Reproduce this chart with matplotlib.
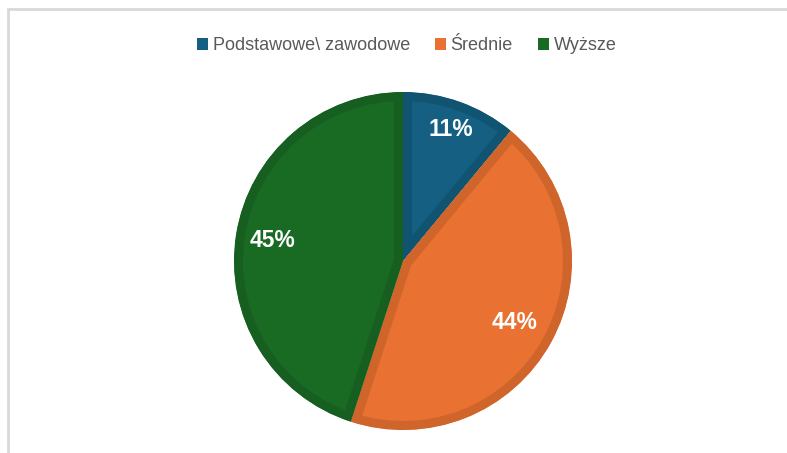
import matplotlib
matplotlib.use("Agg")
import matplotlib.pyplot as plt
from matplotlib.patches import Rectangle
import numpy as np

categories = ["Podstawowe\\ zawodowe", "Średnie", "Wyższe"]
values = [11, 44, 45]
labels = ["11%", "44%", "45%"]

fill_colors = ["#156082", "#E97132", "#196B24"]
edge_colors = ["#115472", "#D0652C", "#175F21"]
label_dist = [0.83, 0.75, 0.78]

plt.rcParams['font.family'] = ['Liberation Sans', 'DejaVu Sans']

W, H = 787, 453
fig = plt.figure(figsize=(W / 100, H / 100), dpi=100)
fig.patch.set_facecolor("white")

# chart frame (top and left visible)
fig.add_artist(Rectangle((7.5 / W, -0.1), 1.2, (H - 9.5) / H + 0.1,
                         transform=fig.transFigure, fill=False,
                         edgecolor="#D9D9D9", linewidth=2))

cx, cy, R = 403, 453 - 261, 169
ax = fig.add_axes([(cx - R) / W, (cy - R) / H, 2 * R / W, 2 * R / H])

wedges, _ = ax.pie(values, colors=fill_colors, startangle=90, counterclock=False,
                   radius=1.0, wedgeprops=dict(linewidth=13))
ax.set_xlim(-1, 1)
ax.set_ylim(-1, 1)
ax.axis("off")
for w, ec in zip(wedges, edge_colors):
    w.set_edgecolor(ec)
    w.set_clip_on(True)
    w.set_clip_path(w)

total = sum(values)
cum = 0
for v, lab, d in zip(values, labels, label_dist):
    mid = (cum + v / 2) / total * 360
    cum += v
    ang = np.deg2rad(90 - mid)
    ax.text(d * np.cos(ang), d * np.sin(ang), lab, ha="center", va="center",
            color="white", fontsize=16.5, fontweight="bold")

handles = [Rectangle((0, 0), 1, 1, facecolor=c, edgecolor="none") for c in fill_colors]
leg = fig.legend(handles, categories, loc="center", bbox_to_anchor=(0.517, 1 - 46 / H),
                 ncol=3, frameon=False, fontsize=13, handlelength=0.6, handleheight=0.6,
                 handletextpad=0.25, columnspacing=1.4)
for t in leg.get_texts():
    t.set_color("#595959")

fig.savefig("out.png", dpi=100, facecolor="white")
